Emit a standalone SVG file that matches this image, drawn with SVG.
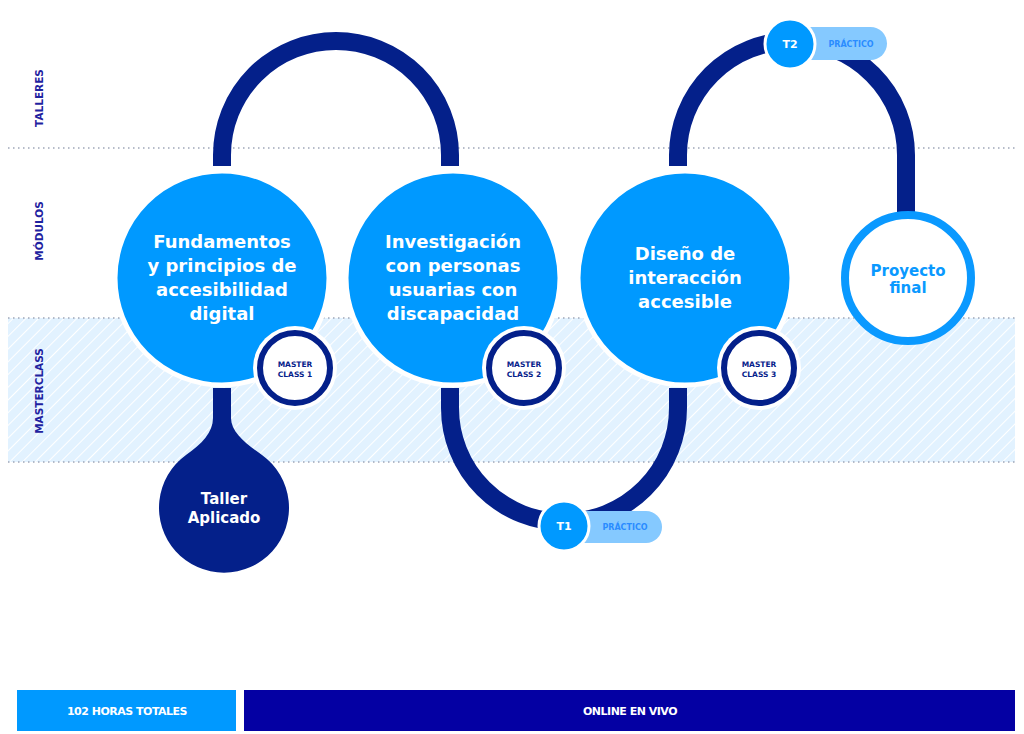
<svg xmlns="http://www.w3.org/2000/svg" width="1024" height="734" viewBox="0 0 1024 734">
<defs>
<pattern id="hatch" patternUnits="userSpaceOnUse" width="9" height="9" patternTransform="rotate(45)">
<rect width="9" height="9" fill="#e2f2ff"/>
<line x1="0" y1="0" x2="0" y2="9" stroke="#ffffff" stroke-width="2"/>
</pattern>
<style>
.dot{stroke:#9ea6b8;stroke-width:1.5;stroke-dasharray:1.5 3.5;fill:none}
.lane{font-family:"DejaVu Sans",sans-serif;font-weight:bold;font-size:10.5px;fill:#1f22a0;text-anchor:middle}
.conn{fill:none;stroke:#04208a;stroke-width:18}
.big{fill:#0099ff;stroke:#ffffff;stroke-width:5}
.bt{font-family:"DejaVu Sans",sans-serif;font-weight:bold;font-size:18px;fill:#ffffff;text-anchor:middle}
.mc{fill:#ffffff;stroke:#04208a;stroke-width:6}
.mcr{fill:#ffffff}
.mt{font-family:"DejaVu Sans",sans-serif;font-weight:bold;font-size:7.5px;fill:#04208a;text-anchor:middle}
.tc{fill:#0099ff;stroke:#ffffff;stroke-width:3}
.tt{font-family:"DejaVu Sans",sans-serif;font-weight:bold;font-size:11px;fill:#ffffff;text-anchor:middle}
.pill{fill:#85c9ff}
.pt{font-family:"DejaVu Sans",sans-serif;font-weight:bold;font-size:8px;fill:#2a8cff;text-anchor:middle}
.bar{font-family:"DejaVu Sans",sans-serif;font-weight:bold;font-size:11px;fill:#ffffff;text-anchor:middle;letter-spacing:-0.5px}
</style>
</defs>
<rect width="1024" height="734" fill="#ffffff"/>
<g id="lanes">
<rect x="8" y="318" width="1007" height="144" fill="url(#hatch)"/>
<line class="dot" x1="8" y1="148" x2="1015" y2="148"/>
<line class="dot" x1="8" y1="318" x2="1015" y2="318"/>
<line class="dot" x1="8" y1="462" x2="1015" y2="462"/>
<text class="lane" transform="translate(43,98) rotate(-90)">TALLERES</text>
<text class="lane" transform="translate(43,231) rotate(-90)">MÓDULOS</text>
<text class="lane" transform="translate(43,391) rotate(-90)">MASTERCLASS</text>
</g>
<g id="connectors">
<path class="conn" d="M222,166 L222,155 A114,114 0 0 1 450,155 L450,166"/>
<path class="conn" d="M450,388 L450,408 A114,114 0 0 0 678,408 L678,388"/>
<path class="conn" d="M678,166 L678,155 A114,114 0 0 1 906,155 L906,215"/>
</g>
<g id="taller-aplicado">
<path d="M213,388 L231,388 L231,418 C231,432 246,444 262,455 A65,65 0 1 1 186,455 C202,444 213,432 213,418 Z" fill="#04208a"/>
<text class="tt" style="font-size:15px" x="224" y="504">Taller</text>
<text class="tt" style="font-size:15px" x="224" y="523">Aplicado</text>
</g>
<g id="modulo-1">
<circle class="big" cx="222" cy="278" r="107"/>
<text class="bt" x="222" y="248">Fundamentos</text>
<text class="bt" x="222" y="272">y principios de</text>
<text class="bt" x="222" y="296">accesibilidad</text>
<text class="bt" x="222" y="320">digital</text>
</g>
<g id="modulo-2">
<circle class="big" cx="453" cy="278" r="107"/>
<text class="bt" x="453" y="248">Investigación</text>
<text class="bt" x="453" y="272">con personas</text>
<text class="bt" x="453" y="296">usuarias con</text>
<text class="bt" x="453" y="320">discapacidad</text>
</g>
<g id="modulo-3">
<circle class="big" cx="685" cy="278" r="107"/>
<text class="bt" x="685" y="260">Diseño de</text>
<text class="bt" x="685" y="284">interacción</text>
<text class="bt" x="685" y="308">accesible</text>
</g>
<g id="proyecto-final">
<circle cx="908" cy="278" r="63" fill="#ffffff" stroke="#0a99ff" stroke-width="8"/>
<text class="bt" style="font-size:15px;fill:#0a99ff" x="908" y="276">Proyecto</text>
<text class="bt" style="font-size:15px;fill:#0a99ff" x="908" y="293">final</text>
</g>
<g id="masterclass-1">
<circle class="mcr" cx="295" cy="368" r="42"/>
<circle class="mc" cx="295" cy="368" r="35"/>
<text class="mt" x="295" y="367">MASTER</text>
<text class="mt" x="295" y="377">CLASS 1</text>
</g>
<g id="masterclass-2">
<circle class="mcr" cx="524" cy="368" r="42"/>
<circle class="mc" cx="524" cy="368" r="35"/>
<text class="mt" x="524" y="367">MASTER</text>
<text class="mt" x="524" y="377">CLASS 2</text>
</g>
<g id="masterclass-3">
<circle class="mcr" cx="759" cy="368" r="42"/>
<circle class="mc" cx="759" cy="368" r="35"/>
<text class="mt" x="759" y="367">MASTER</text>
<text class="mt" x="759" y="377">CLASS 3</text>
</g>
<g id="t1">
<rect class="pill" x="560" y="511" width="102" height="32" rx="16"/>
<text class="pt" x="625" y="530">PRÁCTICO</text>
<circle class="tc" cx="564" cy="526" r="25"/>
<text class="tt" x="564" y="530">T1</text>
</g>
<g id="t2">
<rect class="pill" x="786" y="27" width="101" height="33" rx="16.5"/>
<text class="pt" x="851" y="47">PRÁCTICO</text>
<circle class="tc" cx="790" cy="44" r="25"/>
<text class="tt" x="790" y="48">T2</text>
</g>
<g id="horas">
<rect x="17" y="690" width="219" height="41" fill="#0099ff"/>
<text class="bar" x="127" y="715">102 HORAS TOTALES</text>
</g>
<g id="online">
<rect x="244" y="690" width="771" height="41" fill="#0400a3"/>
<text class="bar" x="630" y="715">ONLINE EN VIVO</text>
</g>
</svg>
